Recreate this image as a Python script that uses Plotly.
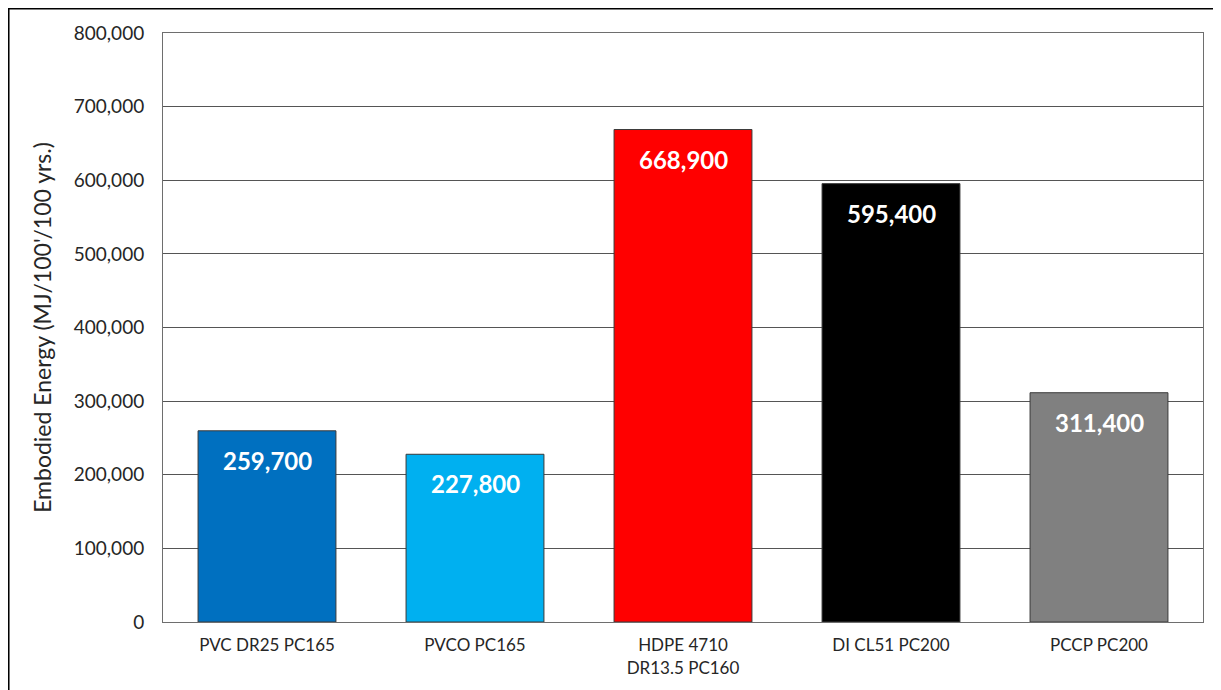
import plotly.graph_objects as go

# pipe materials and embodied energy values
categories = ["PVC DR25 PC165", "PVCO PC165", "HDPE 4710<br>DR13.5 PC160", "DI CL51 PC200", "PCCP PC200"]
energy = [259700, 227800, 668900, 595400, 311400]
bar_colors = ["#0070C0", "#00B0F0", "#FF0000", "#000000", "#808080"]
labels = ["259,700", "227,800", "668,900", "595,400", "311,400"]

fig = go.Figure(go.Bar(
    x=categories,
    y=energy,
    marker={'color': bar_colors, 'line': {'color': "#3a3a3a", 'width': 1}},
))

# value labels sit a little below the top of each bar
for cat, val, lab in zip(categories, energy, labels):
    fig.add_annotation(x=cat, y=val, text="<b>" + lab + "</b>", showarrow=False,
                       yanchor="top", yshift=-13,
                       font={'color': "white", 'size': 24, 'family': "Lato"})

# outer frame around the chart
fig.add_shape(type="rect", xref="paper", yref="paper",
              x0=-0.149, x1=1.2, y0=-0.3, y1=1.0424,
              line={'color': "black", 'width': 3}, layer="above")

fig.update_layout(
    width=1213, height=682,
    margin={'l': 155, 'r': 18, 't': 25, 'b': 68},
    paper_bgcolor="white", plot_bgcolor="white",
    bargap=0.337,
    showlegend=False,
    font={'family': "Lato", 'color': "#262626"},
)

fig.update_xaxes(
    showline=True, linecolor="#6e6e6e", linewidth=1, mirror=True,
    tickfont={'size': 17}, ticks="", ticklabelstandoff=8,
)

fig.update_yaxes(
    range=[0, 800000], dtick=100000, tickformat=",",
    showgrid=True, gridcolor="#555555", gridwidth=1,
    showline=True, linecolor="#6e6e6e", linewidth=1, mirror=True,
    tickfont={'size': 19}, ticks="", zeroline=False, ticklabelstandoff=14,
    title={'text': "Embodied Energy (MJ/100'/100 yrs.)", 'font': {'size': 23}, 'standoff': 15},
)

fig.write_html("out.html")
